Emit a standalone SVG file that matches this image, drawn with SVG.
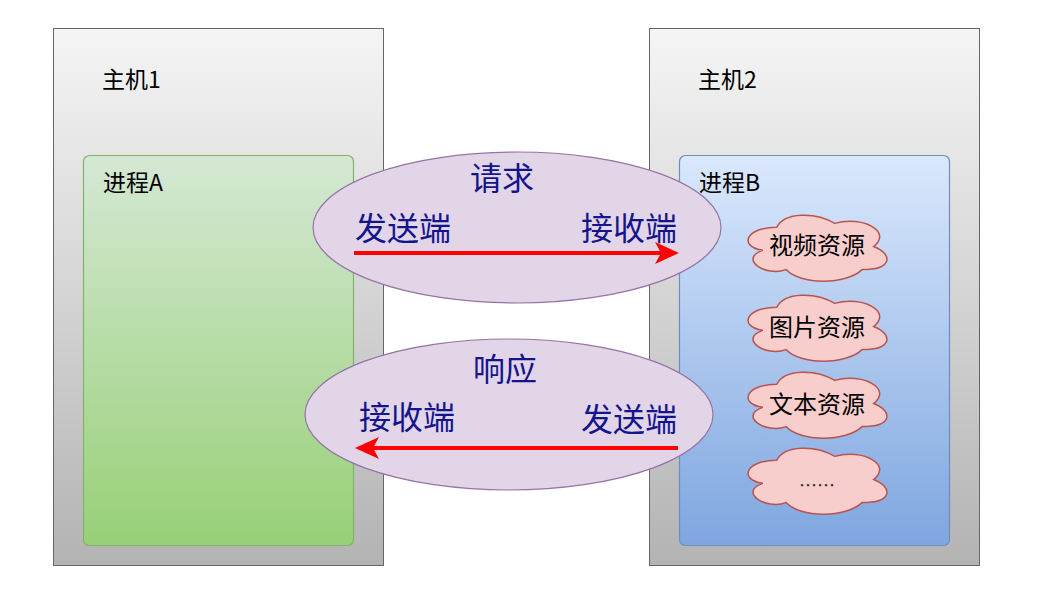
<svg xmlns="http://www.w3.org/2000/svg" width="1041" height="613" viewBox="0 0 1041 613">
<style>
.host{stroke:#666666;stroke-width:1;fill:url(#gGray)}
.lbl{font-family:"Microsoft YaHei","Noto Sans CJK SC",sans-serif;font-size:23px;fill:#000000}
.cl{font-family:"Microsoft YaHei","Noto Sans CJK SC",sans-serif;font-size:24px;fill:#000000}
.big{font-family:"Microsoft YaHei","Noto Sans CJK SC",sans-serif;font-size:32px;fill:#14148c}
.ell{fill:#e1d5e7;stroke:#9673a6;stroke-width:1.2}
.cloud{fill:#f8cecc;stroke:#b85450;stroke-width:1.5}
.arr{stroke:#ff0000;stroke-width:4;fill:none;marker-end:url(#ah)}
</style>
<defs>
<linearGradient id="gGray" x1="0" y1="0" x2="0" y2="1"><stop offset="0" stop-color="#f5f5f5"/><stop offset="1" stop-color="#b3b3b3"/></linearGradient>
<linearGradient id="gGreen" x1="0" y1="0" x2="0" y2="1"><stop offset="0" stop-color="#d5e8d4"/><stop offset="1" stop-color="#97d077"/></linearGradient>
<linearGradient id="gBlue" x1="0" y1="0" x2="0" y2="1"><stop offset="0" stop-color="#dae8fc"/><stop offset="1" stop-color="#7ea6e0"/></linearGradient>
<marker id="ah" viewBox="0 0 24 22" refX="12" refY="11" markerWidth="24" markerHeight="22" markerUnits="userSpaceOnUse" orient="auto"><path d="M0,0 L24,11 L0,22 L6,11 Z" fill="#ff0000"/></marker>
<path id="cl" d="M38.75,19.25 C7.75,19.25 0,38.5 24.8,42.35 C0,50.82 27.9,69.3 48.05,61.6 C62,77 108.5,77 124,61.6 C155,61.6 155,46.2 135.63,38.5 C155,23.1 124,7.7 96.88,15.4 C77.5,3.85 46.5,3.85 38.75,19.25 Z"/>
</defs>
<rect width="1041" height="613" fill="#ffffff"/>
<g id="host1"><rect class="host" x="53.5" y="28.5" width="330" height="537"/><text class="lbl" x="102" y="88">主机1</text></g>
<g id="host2"><rect class="host" x="649.5" y="28.5" width="330" height="537"/><text class="lbl" x="698" y="88">主机2</text></g>
<g id="procA"><rect x="83.5" y="155.5" width="270" height="390" rx="6" fill="url(#gGreen)" stroke="#82b366" stroke-width="1.2"/><text class="lbl" x="103" y="191">进程A</text></g>
<g id="procB"><rect x="679.5" y="155.5" width="270" height="390" rx="6" fill="url(#gBlue)" stroke="#6c8ebf" stroke-width="1.2"/><text class="lbl" x="699" y="191">进程B</text></g>
<g id="req"><ellipse class="ell" cx="517" cy="227.5" rx="204" ry="75.5"/><text class="big" x="502" y="190" text-anchor="middle">请求</text><text class="big" x="355" y="240">发送端</text><text class="big" x="677" y="240" text-anchor="end">接收端</text></g>
<g id="resp"><ellipse class="ell" cx="509" cy="414.5" rx="204" ry="75.5"/><text class="big" x="505" y="381" text-anchor="middle">响应</text><text class="big" x="359" y="429">接收端</text><text class="big" x="677" y="431" text-anchor="end">发送端</text></g>
<g id="res1"><use href="#cl" class="cloud" x="738" y="208"/><text class="cl" x="817" y="254" text-anchor="middle">视频资源</text></g>
<g id="res2"><use href="#cl" class="cloud" x="738" y="288"/><text class="cl" x="817" y="336" text-anchor="middle">图片资源</text></g>
<g id="res3"><use href="#cl" class="cloud" x="738" y="365"/><text class="cl" x="817" y="413" text-anchor="middle">文本资源</text></g>
<g id="res4"><use href="#cl" class="cloud" x="738" y="441"/><text class="cl" x="817" y="492" text-anchor="middle" style="font-size:18px;fill:#333333">……</text></g>
<g id="connectors">
<path class="arr" d="M354,253 L667,253"/>
<path class="arr" d="M678,448 L367,448"/>
</g>
</svg>
